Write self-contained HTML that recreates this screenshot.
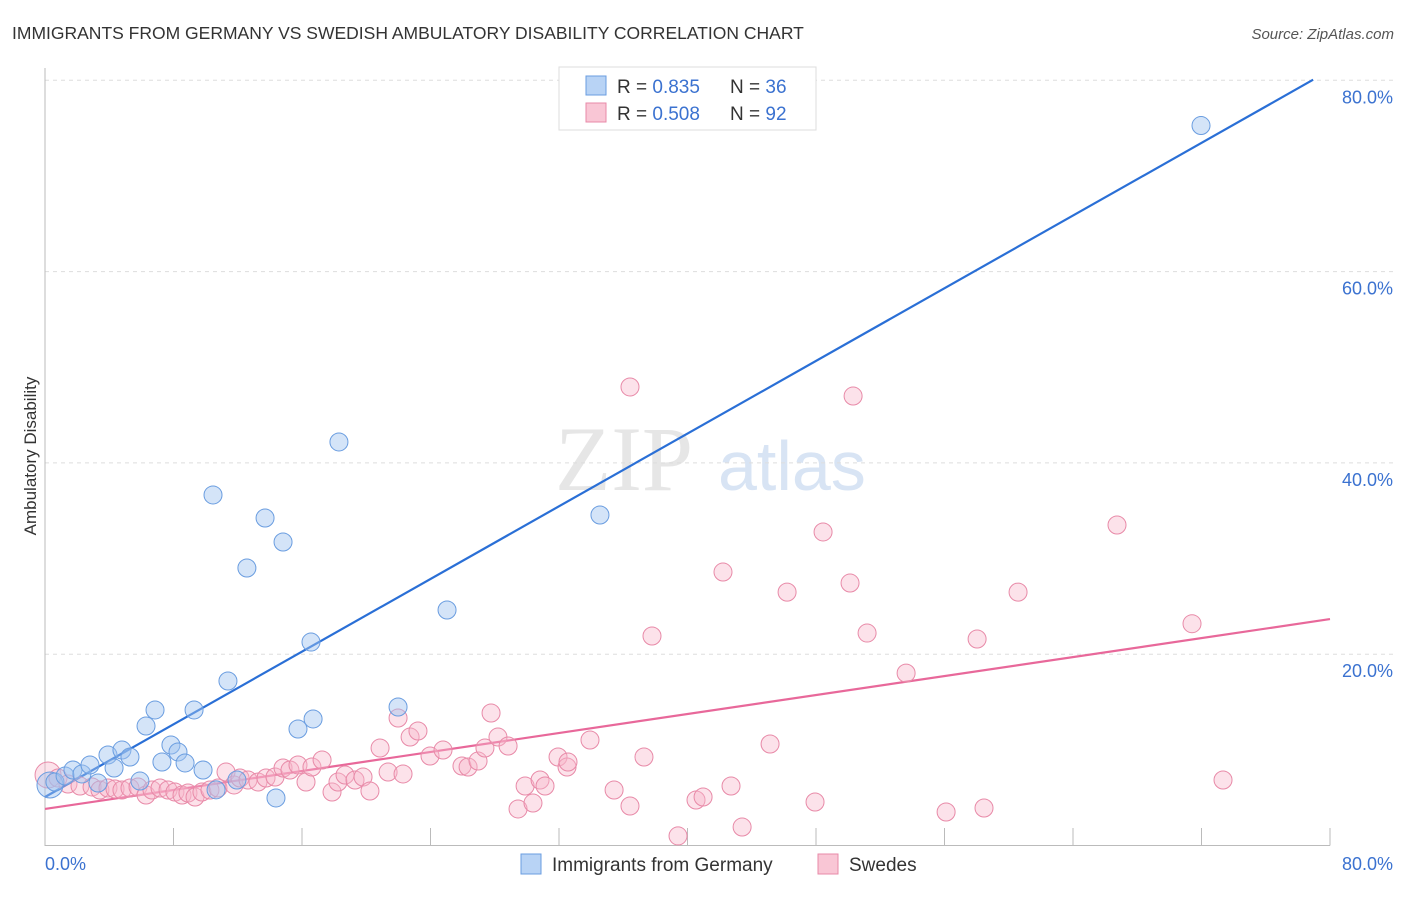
<!DOCTYPE html>
<html><head><meta charset="utf-8"><style>
body{margin:0;background:#fff;font-family:"Liberation Sans",sans-serif;}
svg text{font-family:"Liberation Sans",sans-serif;}
</style></head><body>
<svg width="1406" height="892" xmlns="http://www.w3.org/2000/svg">
<text x="12" y="39" font-size="17.5" fill="#333">IMMIGRANTS FROM GERMANY VS SWEDISH AMBULATORY DISABILITY CORRELATION CHART</text>
<text x="1394" y="39" font-size="15" fill="#555" font-style="italic" text-anchor="end">Source: ZipAtlas.com</text>
<g>
<text x="555" y="490" font-size="92" fill="#e6e6e6" font-family="Liberation Serif" style="font-family:'Liberation Serif',serif">ZIP</text>
<text x="718" y="490" font-size="70" fill="#d8e4f4">atlas</text>
</g>
<g id="grid"></g>
<g id="axes"></g>
<g id="lines"></g>
<g id="pts"></g>
<text x="36" y="456" font-size="17" fill="#333" transform="rotate(-90 36 456)" text-anchor="middle">Ambulatory Disability</text>
<g>
<rect x="559" y="67" width="257" height="63" fill="#fff" stroke="#ddd"/>
<rect x="586" y="76" width="20" height="19" fill="#b8d3f5" stroke="#6a9de0"/>
<rect x="586" y="103" width="20" height="19" fill="#f9c6d5" stroke="#e88aa8"/>
<text x="617" y="93" font-size="19" fill="#333">R = <tspan fill="#3b72d0">0.835</tspan></text>
<text x="730" y="93" font-size="19" fill="#333">N = <tspan fill="#3b72d0">36</tspan></text>
<text x="617" y="120" font-size="19" fill="#333">R = <tspan fill="#3b72d0">0.508</tspan></text>
<text x="730" y="120" font-size="19" fill="#333">N = <tspan fill="#3b72d0">92</tspan></text>
</g>
<g>
<rect x="521" y="854" width="20" height="20" fill="#b8d3f5" stroke="#6a9de0"/>
<text x="552" y="871" font-size="19" fill="#333">Immigrants from Germany</text>
<rect x="818" y="854" width="20" height="20" fill="#f9c6d5" stroke="#e88aa8"/>
<text x="849" y="871" font-size="19" fill="#333">Swedes</text>
</g>
</svg>
<script>
const yTicks=[20,40,60,80];
const yTickLabels=["20.0%","40.0%","60.0%","80.0%"];
const xTicks=[8,16,24,32,40,48,56,64,72,80];
const xTickLabels=["0.0%","80.0%"];
const blueX=[0.31,0.62,1.25,1.74,2.30,2.80,3.30,3.92,4.30,4.79,5.29,5.91,6.29,6.85,7.28,7.84,8.28,8.72,9.28,9.84,10.46,10.65,11.39,11.95,12.57,13.70,14.38,14.82,15.75,16.56,16.69,18.30,21.98,25.03,34.55,71.97];
const blueY=[6.33,6.64,7.27,7.89,7.48,8.42,6.53,9.46,8.10,9.98,9.25,6.74,12.49,14.17,8.73,10.51,9.78,8.63,14.17,7.89,36.65,5.82,17.20,6.85,29.01,34.24,4.97,31.73,12.18,21.27,13.23,42.19,14.48,24.62,34.55,75.27];
const pinkX=[0.19,0.81,1.43,2.18,2.93,3.42,3.92,4.36,4.79,5.29,5.79,6.29,6.66,7.16,7.66,8.09,8.53,8.90,9.34,9.77,10.27,10.77,11.27,11.77,12.14,12.64,13.26,13.76,14.32,14.82,15.25,15.75,16.25,16.62,17.25,17.87,18.24,18.68,19.30,19.80,20.23,20.86,21.36,21.98,22.29,22.73,23.22,23.97,24.78,25.96,26.34,26.96,27.39,27.77,28.20,28.83,29.45,29.89,30.38,30.82,31.13,31.94,32.50,32.56,33.93,35.43,36.42,37.29,37.79,36.42,39.41,40.53,40.97,42.21,42.71,43.40,45.14,46.20,47.94,48.44,50.12,50.31,51.18,53.61,56.10,58.03,58.46,60.58,66.74,71.41,73.34];
const pinkY=[7.37,7.06,6.43,6.22,6.12,5.80,6.01,5.91,5.80,6.01,6.12,5.28,5.80,6.01,5.80,5.59,5.28,5.49,5.07,5.59,5.80,6.01,7.68,6.33,7.06,6.85,6.64,7.06,7.16,8.10,7.89,8.42,6.64,8.21,8.94,5.59,6.64,7.37,6.85,7.16,5.70,10.19,7.68,13.33,7.48,11.34,11.97,9.36,9.98,8.31,8.21,8.83,10.19,13.85,11.34,10.40,3.82,6.22,4.44,6.85,6.22,9.25,8.21,8.73,11.03,5.80,4.13,9.25,21.90,47.94,1.00,4.76,5.07,28.59,6.22,1.93,10.61,26.49,4.55,32.78,27.44,46.99,22.21,18.02,3.50,21.59,3.92,26.49,33.51,23.19,6.85];
const blueTrendX=[0,78.95], blueTrendY=[5.07,80.06];
const pinkTrendX=[0,80], pinkTrendY=[3.82,23.67];
const NS="http://www.w3.org/2000/svg";
const X=v=>45+v/80*1285, Y=v=>845.5-v/20*191.3;
function mk(t,a,p){const e=document.createElementNS(NS,t);for(const k in a)e.setAttribute(k,a[k]);p.appendChild(e);return e;}
const grid=document.getElementById('grid'),axes=document.getElementById('axes'),lines=document.getElementById('lines'),pts=document.getElementById('pts');
yTicks.forEach((t,i)=>{
 const l=mk('line',{x1:45,x2:1395,y1:Y(t),y2:Y(t),stroke:'#ddd','stroke-dasharray':'4,4'},grid);
 
 
 const tx=mk('text',{x:1393,y:Y(t)+23,'font-size':18,fill:'#3b72d0','text-anchor':'end'},grid);
 tx.textContent=yTickLabels[i];
 
 
});
const ax=mk('path',{d:'M45 68 V845.5 H1330',stroke:'#bbb',fill:'none'},axes);


xTicks.forEach(t=>{
 const l=mk('line',{x1:X(t),x2:X(t),y1:828,y2:845.5,stroke:'#bbb'},axes);
 
 
});
[[X(0),'start'],[1393,'end']].forEach((p,i)=>{
 const tx=mk('text',{x:p[0],y:870,'font-size':18,fill:'#3b72d0','text-anchor':p[1]},axes);
 tx.textContent=xTickLabels[i];
 
 
});
pinkX.forEach((x,i)=>{
 const c=mk('circle',{cx:X(x),cy:Y(pinkY[i]),r:i==0?13:9,fill:'rgba(248,182,202,0.4)',stroke:'#e88aa8','stroke-width':1},pts);
 
 
});
blueX.forEach((x,i)=>{
 const c=mk('circle',{cx:X(x),cy:Y(blueY[i]),r:i==0?13:9,fill:'rgba(160,196,240,0.45)',stroke:'#6a9de0','stroke-width':1},pts);
 
 
});
const bl=mk('line',{x1:X(blueTrendX[0]),y1:Y(blueTrendY[0]),x2:X(blueTrendX[1]),y2:Y(blueTrendY[1]),stroke:'#2a6fd6','stroke-width':2.2},lines);


const pl=mk('line',{x1:X(pinkTrendX[0]),y1:Y(pinkTrendY[0]),x2:X(pinkTrendX[1]),y2:Y(pinkTrendY[1]),stroke:'#e8689a','stroke-width':2.2},lines);


</script>
</body></html>
